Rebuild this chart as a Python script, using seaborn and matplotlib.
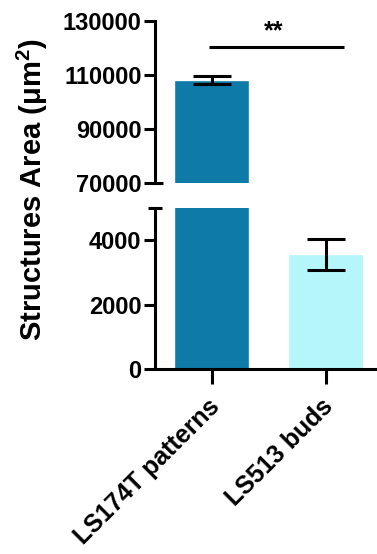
import matplotlib
matplotlib.use("Agg")
import matplotlib.pyplot as plt
import matplotlib.transforms as mtransforms
import seaborn as sns
import pandas as pd

# Group means and SEM of structure area (um^2)
categories = ["LS174T patterns", "LS513 buds"]
mean_area = [108200, 3560]
sem_area = [1500, 480]
bar_colors = ["#0e7aa8", "#b4f6fa"]

# Broken y-axis: upper and lower segments
upper_range = (70000, 130000)
upper_ticks = [70000, 90000, 110000, 130000]
lower_range = (0, 5000)
lower_ticks = [0, 2000, 4000]

# Significance annotation between the two groups
sig_label = "**"
sig_level = 120300

sns.set_theme(style="ticks")
plt.rcParams["font.family"] = ["Liberation Sans", "DejaVu Sans"]
plt.rcParams["font.weight"] = "bold"
plt.rcParams["text.color"] = "black"
plt.rcParams["xtick.color"] = "black"
plt.rcParams["ytick.color"] = "black"
plt.rcParams["xtick.labelcolor"] = "black"
plt.rcParams["ytick.labelcolor"] = "black"
plt.rcParams["mathtext.fontset"] = "custom"
plt.rcParams["mathtext.rm"] = "Liberation Sans:bold"
plt.rcParams["mathtext.bf"] = "Liberation Sans:bold"

df = pd.DataFrame({"group": categories, "area": mean_area})

W, H = 377, 554
fig = plt.figure(figsize=(W / 100, H / 100), dpi=100)
left = 154.7 / W
width = (W - 154.7) / W
ax_top = fig.add_axes([left, 1 - 182.5 / H, width, (182.5 - 21) / H])
ax_bot = fig.add_axes([left, 1 - 369.3 / H, width, (369.3 - 207.7) / H])

LW = 2.2
TICK_FS = 17
for ax in (ax_top, ax_bot):
    sns.barplot(data=df, x="group", y="area", hue="group", palette=bar_colors,
                width=0.66, saturation=1, errorbar=None, legend=False, ax=ax)
    ax.errorbar(range(len(categories)), mean_area, yerr=sem_area, fmt="none",
                ecolor="black", elinewidth=LW, capsize=14, capthick=LW, zorder=3)
    ax.set_xlim(-0.5, 1.45)
    ax.set_xlabel("")
    ax.set_ylabel("")
    for side in ("top", "right"):
        ax.spines[side].set_visible(False)
    for side in ("left", "bottom"):
        ax.spines[side].set_linewidth(LW)
        ax.spines[side].set_color("black")
    ax.tick_params(axis="both", length=8, width=LW, color="black",
                   labelsize=TICK_FS, pad=1.5, labelcolor="black")

ax_top.set_ylim(*upper_range)
ax_top.set_yticks(upper_ticks)
ax_top.spines["bottom"].set_visible(False)
ax_top.tick_params(axis="x", bottom=False, labelbottom=False)

ax_bot.set_ylim(*lower_range)
ax_bot.set_yticks(lower_ticks)
ax_bot.set_xticks(range(len(categories)))
ax_bot.set_xticklabels(categories, rotation=45, ha="right", va="center",
                       rotation_mode="anchor", fontsize=18, fontweight="bold")
ax_bot.tick_params(axis="x", length=11, pad=13)
shift = mtransforms.ScaledTranslation(4 / 100, 0, fig.dpi_scale_trans)
for lab in ax_bot.get_xticklabels():
    lab.set_transform(lab.get_transform() + shift)

for ax in (ax_top, ax_bot):
    for lab in ax.get_yticklabels():
        lab.set_fontweight("bold")

# Break marks on the y-axis
ax_top.plot([-0.005, 0.036], [0, 0], transform=ax_top.transAxes,
            color="black", lw=LW, clip_on=False, solid_capstyle="butt")
ax_bot.plot([-0.03, 0.033], [1, 1], transform=ax_bot.transAxes,
            color="black", lw=LW, clip_on=False, solid_capstyle="butt")

# Significance bar
ax_top.plot([-0.02, 1.16], [sig_level, sig_level], color="black", lw=LW,
            solid_capstyle="butt", clip_on=False)
ax_top.text(0.54, sig_level + 1500, sig_label, ha="center", va="bottom",
            fontsize=18, fontweight="bold")

fig.text(32 / W, 1 - 190 / H, "Structures Area (μm$^\\mathbf{2}$)",
         rotation=90, ha="center", va="center", fontsize=21, fontweight="bold")

fig.savefig("out.png", dpi=100)
